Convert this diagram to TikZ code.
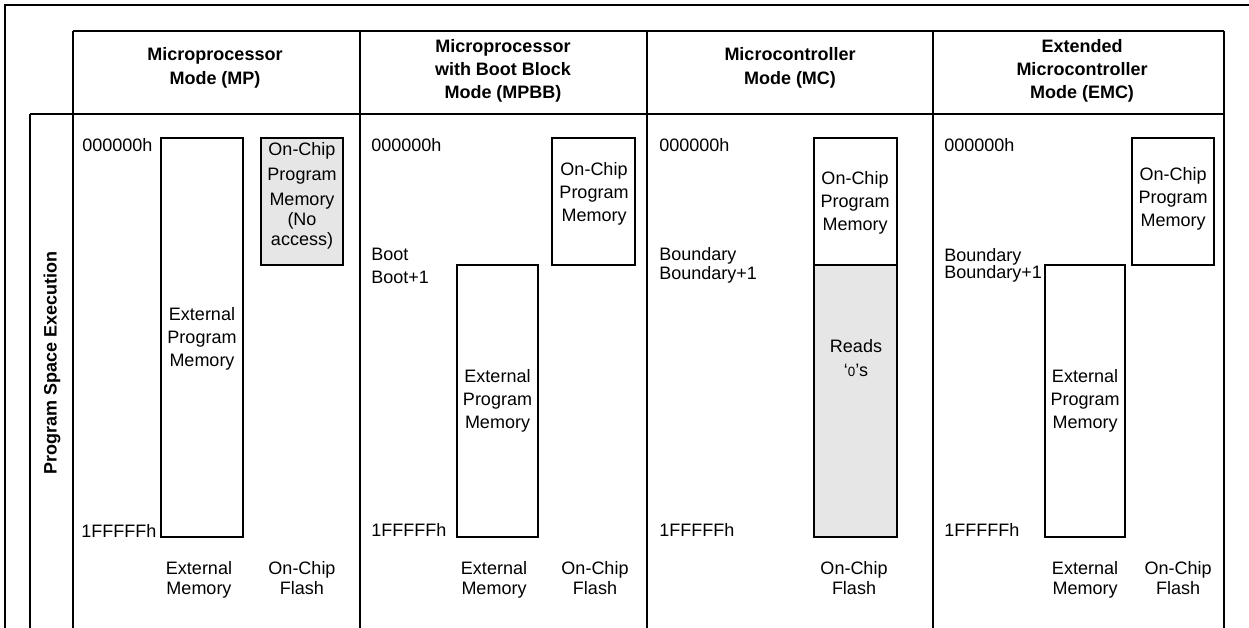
\documentclass[tikz,border=0pt]{standalone}
\usepackage{fontspec}
\setmainfont{Liberation Sans}
\usetikzlibrary{fit}
\definecolor{shade}{RGB}{230,230,230}
\begin{document}
\begin{tikzpicture}[x=0.75pt,y=-0.75pt,
  rule/.style={draw=black, line width=1.6pt},
  memrect/.style={draw=black, line width=1.6pt, inner sep=0pt},
  greyrect/.style={memrect, fill=shade},
  txt/.style={font=\fontsize{13.5}{17.5}\selectfont, inner sep=0pt, align=center},
  hdr/.style={font=\bfseries\fontsize{13.5}{17.5}\selectfont, inner sep=0pt, align=center},
  addr/.style={font=\fontsize{13.5}{17.5}\selectfont, inner sep=0pt, anchor=west},
  foot/.style={font=\fontsize{13.5}{15}\selectfont, inner sep=0pt, align=center}]
\useasboundingbox (0,0) rectangle (1249,628);
% frame and table rules
\draw[rule] (5,628) -- (5,5) -- (1249,5);
\draw[rule] (73,31) -- (1224,31);
\draw[rule] (30,114) -- (1224,114);
\draw[rule] (30,114) -- (30,628);
\foreach \xx in {73,360,647,933,1224} \draw[rule] (\xx,31) -- (\xx,628);
% headers
\node[hdr] (hmp) at (215,68) {Microprocessor\\Mode (MP)};
\node[hdr] (hmpbb) at (503,71) {Microprocessor\\with Boot Block\\Mode (MPBB)};
\node[hdr] (hmc) at (790,68) {Microcontroller\\Mode (MC)};
\node[hdr] (hemc) at (1082,71) {Extended\\Microcontroller\\Mode (EMC)};
\node[hdr, rotate=90] (rowlbl) at (52,363) {Program Space Execution};
% ---- MP ----
\node[addr] (mpa0) at (82,145) {000000h};
\node[addr] (mpa1) at (81,531) {1FFFFFh};
\node[memrect, fit={(161,138) (243,537)}] (mpext) {};
\node[txt] (mpextt) at (202,339) {External\\Program\\Memory};
\node[greyrect, fit={(261,138) (343,265)}] (mpchip) {};
\node[txt] (mpchipt) at (302,196) {On-Chip\\[1pt]Program\\[1pt]Memory\\[-2.5pt](No\\[-2.5pt]access)};
\node[foot] (mpf1) at (199,580) {\strut External\\Memory\strut};
\node[foot] (mpf2) at (302,580) {\strut On-Chip\\Flash\strut};
% ---- MPBB ----
\node[addr] (bba0) at (371,145) {000000h};
\node[addr] (bbb0) at (371,254) {Boot};
\node[addr] (bbb1) at (371,277) {Boot+1};
\node[addr] (bba1) at (371,530) {1FFFFFh};
\node[memrect, fit={(552,138) (635,265)}] (bbchip) {};
\node[txt] (bbchipt) at (594,194) {On-Chip\\Program\\Memory};
\node[memrect, fit={(457,265) (538,537)}] (bbext) {};
\node[txt] (bbextt) at (bbext.center) {External\\Program\\Memory};
\node[foot] (bbf1) at (494,580) {\strut External\\Memory\strut};
\node[foot] (bbf2) at (595,580) {\strut On-Chip\\Flash\strut};
% ---- MC ----
\node[addr] (mca0) at (659,145) {000000h};
\node[addr] (mcb0) at (659,256) {Boundary};
\node[addr] (mcb1) at (659,275) {Boundary+1};
\node[addr] (mca1) at (659,530) {1FFFFFh};
\node[memrect, fit={(814,138) (897,265)}] (mcchip) {};
\node[txt] (mcchipt) at (855,203) {On-Chip\\Program\\Memory};
\node[greyrect, fit={(814,265) (897,537)}] (mczero) {};
\node[txt] (mczerot) at (856,358) {Reads\\‘{\fontsize{10}{12}\selectfont 0}’s};
\node[foot] (mcf2) at (854,580) {\strut On-Chip\\Flash\strut};
% ---- EMC ----
\node[addr] (ema0) at (944,145) {000000h};
\node[addr] (emb0) at (944,257) {Boundary};
\node[addr] (emb1) at (944,274) {Boundary+1};
\node[addr] (ema1) at (944,530) {1FFFFFh};
\node[memrect, fit={(1132,138) (1214,265)}] (emchip) {};
\node[txt] (emchipt) at (1173,199) {On-Chip\\Program\\Memory};
\node[memrect, fit={(1045,265) (1125,537)}] (emext) {};
\node[txt] (emextt) at (emext.center) {External\\Program\\Memory};
\node[foot] (emf1) at (1085,580) {\strut External\\Memory\strut};
\node[foot] (emf2) at (1178,580) {\strut On-Chip\\Flash\strut};
\end{tikzpicture}
\end{document}
